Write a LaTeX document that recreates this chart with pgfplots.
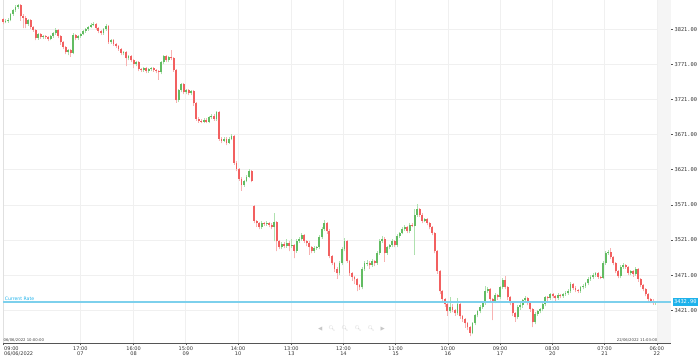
\documentclass[border=0pt]{standalone}
\usepackage{pgfplots}
\pgfplotsset{compat=1.18}
\usepackage{pgfplotstable}
\usepackage{fontspec}
\setmainfont{DejaVu Sans}
\newfontfamily\monofont{DejaVu Sans Mono}
\newfontfamily\emojifont{Noto Emoji}
\definecolor{upb}{RGB}{98,188,98}
\definecolor{upw}{RGB}{175,225,175}
\definecolor{dnb}{RGB}{242,96,96}
\definecolor{dnw}{RGB}{248,178,178}
\definecolor{cur}{RGB}{125,208,236}
\definecolor{curbox}{RGB}{30,178,235}
\definecolor{axisc}{RGB}{85,85,85}
\pgfplotstableread{
x o h l c
3 3835 3837 3828 3831
5.5 3831 3835 3829 3832
8 3832 3837 3830 3834
10.5 3834 3844 3832 3842.4
13 3842.4 3850 3840 3848
15.5 3848 3855 3846 3852.4
18 3852.4 3857 3850 3855
20.5 3855 3857 3833 3839.5
23 3839.5 3842 3822 3836.7
25.5 3836.7 3839 3822 3828
28 3828 3836 3826 3834
30.5 3834 3836 3821 3824
33 3824 3826 3817 3819.5
35.5 3819.5 3821 3805 3808
38 3808 3816 3806 3814
40.5 3814 3816 3807 3809.5
43 3809.5 3813 3807 3811
45.5 3811 3813 3807 3809.5
48 3809.5 3811 3804 3806.7
50.5 3806.7 3813 3805 3811
53 3811 3817 3809 3815.3
55.5 3815.3 3823 3813 3819.5
58 3819.5 3821 3808 3811
60.5 3811 3813 3799 3802.4
63 3802.4 3804 3792 3795.3
65.5 3795.3 3797 3785 3788
68 3788 3793 3784 3791
70.5 3791 3793 3782 3786.7
73 3786.7 3815 3785 3812.4
75.5 3812.4 3814 3805 3808
78 3808 3813 3806 3811
80.5 3811 3816 3809 3814
83 3814 3820 3812 3818
85.5 3818 3823 3816 3821
88 3821 3826 3819 3824
90.5 3824 3829 3822 3826.7
93 3826.7 3831 3825 3828
95.5 3828 3830 3820 3822.4
98 3822.4 3824 3815 3818
100.5 3818 3820 3812 3815.3
103 3815.3 3823 3813 3821
105.5 3821 3828 3819 3825.3
108 3825.3 3827 3800 3802.4
110.5 3802.4 3807 3800 3805
113 3805 3807 3797 3799.5
115.5 3799.5 3801 3794 3796.7
118 3796.7 3799 3790 3792.4
120.5 3792.4 3794 3784 3786.7
123 3786.7 3790 3784 3788
125.5 3788 3790 3768 3779.5
128 3779.5 3784 3777 3782.4
130.5 3782.4 3784 3774 3776.7
133 3776.7 3778 3765 3771
135.5 3771 3776 3768 3773.8
138 3773.8 3776 3761 3763.8
140.5 3763.8 3766 3760 3762.4
143 3762.4 3767 3760 3765.3
145.5 3765.3 3767 3758 3761
148 3761 3766 3759 3763.8
150.5 3763.8 3767 3761 3765.3
153 3765.3 3767 3760 3762.4
155.5 3762.4 3764 3758 3761
158 3761 3763 3749 3759.5
160.5 3759.5 3776 3757 3773.8
163 3773.8 3784 3771 3782.4
165.5 3782.4 3784 3774 3776.7
168 3776.7 3783 3774 3781
170.5 3781 3791 3777 3779.5
173 3779.5 3781 3760 3762.4
175.5 3762.4 3764 3716 3719.5
178 3719.5 3736 3717 3733.8
180.5 3733.8 3745 3731 3742.4
183 3742.4 3744 3728 3731
185.5 3731 3736 3728 3733.8
188 3733.8 3736 3727 3729.5
190.5 3729.5 3735 3727 3732.4
193 3732.4 3734 3712 3715.3
195.5 3715.3 3717 3691 3693.8
198 3693.8 3696 3688 3691
200.5 3691 3693 3687 3689.5
203 3689.5 3695 3687 3692.4
205.5 3692.4 3694 3687 3689.5
208 3689.5 3697 3687 3695.3
210.5 3695.3 3700 3693 3698.1
213 3698.1 3700 3691 3693.8
215.5 3693.8 3704 3691 3702.4
218 3702.4 3704 3662 3665.3
220.5 3665.3 3667 3659 3662.4
223 3662.4 3667 3660 3665.3
225.5 3665.3 3667 3656 3659.5
228 3659.5 3667 3657 3665.3
230.5 3665.3 3672 3663 3669.5
233 3669.5 3671 3628 3631
235.5 3631 3633 3619 3622.4
238 3622.4 3624 3605 3608.1
240.5 3608.1 3610 3591 3599.5
243 3599.5 3607 3597 3605.3
245.5 3605.3 3613 3603 3611
248 3611 3622 3609 3619.5
250.5 3619.5 3621 3603 3605.3
253 3569.5 3571 3545 3548.1
255.5 3548.1 3550 3540 3545.3
258 3545.3 3547 3536 3539.5
260.5 3539.5 3548 3537 3545.3
263 3545.3 3547 3541 3543.8
265.5 3543.8 3548 3541 3545.3
268 3545.3 3547 3539 3542.4
270.5 3542.4 3545 3536 3539.5
273 3539.5 3560 3519 3546.7
275.5 3546.7 3548 3505 3519.5
278 3519.5 3521 3508 3510.9
280.5 3510.9 3518 3508 3515.3
283 3515.3 3518 3509 3512.4
285.5 3512.4 3522 3510 3516.7
288 3516.7 3519 3505 3512.4
290.5 3512.4 3522 3510 3513.8
293 3513.8 3516 3495 3505.3
295.5 3505.3 3522 3503 3519.5
298 3519.5 3525 3517 3522.4
300.5 3522.4 3531 3520 3528.1
303 3528.1 3530 3517 3519.5
305.5 3519.5 3521 3512 3516.7
308 3516.7 3519 3500 3510.9
310.5 3510.9 3513 3502 3505.3
313 3505.3 3512 3503 3509.5
315.5 3509.5 3513 3507 3510.9
318 3510.9 3528 3508 3525.3
320.5 3525.3 3539 3523 3536.7
323 3536.7 3550 3534 3545.3
325.5 3545.3 3547 3530 3533.8
328 3533.8 3536 3495 3498.1
330.5 3498.1 3500 3485 3488.1
333 3488.1 3490 3476 3479.5
335.5 3479.5 3482 3466 3473.8
338 3473.8 3491 3471 3488.1
340.5 3488.1 3511 3485 3508.1
343 3508.1 3524 3505 3519.5
345.5 3519.5 3521 3488 3491
348 3491 3493 3470 3473.8
350.5 3473.8 3476 3463 3468.1
353 3468.1 3470 3458 3465.3
355.5 3465.3 3467 3448 3456.7
358 3456.7 3459 3450 3453.8
360.5 3453.8 3482 3451 3479.5
363 3479.5 3491 3477 3488.1
365.5 3488.1 3492 3484 3488.5
368 3488.5 3491 3480 3485.3
370.5 3485.3 3494 3483 3491
373 3491 3493 3484 3488.1
375.5 3488.1 3505 3486 3502.4
378 3502.4 3522 3500 3519.5
380.5 3519.5 3527 3517 3522.4
383 3522.4 3526 3490 3502.4
385.5 3502.4 3513 3500 3510.9
388 3510.9 3516 3508 3513.8
390.5 3513.8 3522 3511 3519.5
393 3519.5 3521 3511 3513.8
395.5 3513.8 3529 3511 3526.7
398 3526.7 3533 3524 3531
400.5 3531 3539 3529 3536.7
403 3536.7 3542 3534 3539.5
405.5 3539.5 3541 3531 3533.8
408 3533.8 3545 3531 3542.4
410.5 3542.4 3545 3539 3541
413 3541 3565 3500 3556.7
415.5 3556.7 3572 3554 3565.3
418 3565.3 3567 3554 3556.7
420.5 3556.7 3559 3545 3548.1
423 3548.1 3553 3546 3551
425.5 3551 3553 3542 3545.3
428 3545.3 3547 3536 3539.5
430.5 3539.5 3541 3528 3531
433 3531 3533 3502 3505.3
435.5 3505.3 3507 3473 3476.7
438 3476.7 3479 3444 3448.1
440.5 3448.1 3450 3433 3436.7
443 3436.7 3439 3426 3429.5
445.5 3429.5 3432 3413 3419.5
448 3419.5 3440 3417 3425.3
450.5 3425.3 3430 3418 3421
453 3421 3423 3413 3416.7
455.5 3416.7 3438 3414 3429.5
458 3429.5 3431 3409 3412.4
460.5 3412.4 3414 3405 3408.1
463 3408.1 3410 3396 3402.4
465.5 3402.4 3404 3393 3396.7
468 3396.7 3399 3384 3389.5
470.5 3389.5 3405 3387 3402.4
473 3402.4 3416 3400 3413.8
475.5 3413.8 3422 3411 3419.5
478 3419.5 3428 3417 3425.3
480.5 3425.3 3434 3423 3431
483 3431 3455 3429 3448.1
485.5 3448.1 3454 3446 3451
488 3451 3453 3434 3436.7
490.5 3436.7 3439 3407 3433.8
493 3433.8 3445 3431 3442.4
495.5 3442.4 3444 3436 3439.5
498 3439.5 3456 3437 3453.8
500.5 3453.8 3467 3451 3463.8
503 3463.8 3470 3451 3453.8
505.5 3453.8 3456 3436 3439.5
508 3439.5 3442 3428 3431
510.5 3431 3433 3413 3416.7
513 3416.7 3419 3405 3410.9
515.5 3410.9 3428 3408 3425.3
518 3425.3 3431 3422 3428.1
520.5 3428.1 3437 3425 3435.3
523 3435.3 3441 3433 3438.1
525.5 3438.1 3440 3428 3431
528 3431 3433 3419 3422.4
530.5 3422.4 3424 3397 3403.8
533 3403.8 3418 3401 3415.3
535.5 3415.3 3422 3413 3419.5
538 3419.5 3425 3417 3422.4
540.5 3422.4 3432 3420 3429.5
543 3429.5 3442 3427 3439.5
545.5 3439.5 3442 3435 3438.1
548 3438.1 3446 3436 3443.8
550.5 3443.8 3446 3438 3441
553 3441 3443 3435 3438.1
555.5 3438.1 3445 3436 3442.4
558 3442.4 3444 3438 3441
560.5 3441 3446 3439 3443.8
563 3443.8 3448 3442 3445.3
565.5 3445.3 3451 3443 3448.1
568 3448.1 3461 3446 3458.1
570.5 3458.1 3460 3450 3452.4
573 3452.4 3455 3447 3449.5
575.5 3449.5 3452 3445 3448.1
578 3448.1 3456 3446 3453.8
580.5 3453.8 3458 3451 3455.3
583 3455.3 3462 3453 3459.5
585.5 3459.5 3468 3457 3465.3
588 3465.3 3471 3463 3468.1
590.5 3468.1 3474 3466 3471
593 3471 3476 3469 3473.8
595.5 3473.8 3476 3466 3468.1
598 3468.1 3470 3465 3467.5
600.5 3467.5 3491 3465 3488.1
603 3488.1 3505 3486 3502.4
605.5 3502.4 3507 3500 3503.8
608 3503.8 3510 3494 3496.7
610.5 3496.7 3499 3485 3488.1
613 3488.1 3490 3474 3476.7
615.5 3476.7 3479 3467 3469.5
618 3469.5 3485 3467 3482.4
620.5 3482.4 3488 3480 3485.3
623 3485.3 3487 3480 3482.4
625.5 3482.4 3484 3471 3473.8
628 3473.8 3479 3471 3476.7
630.5 3476.7 3479 3469 3472.4
633 3472.4 3482 3470 3479.5
635.5 3479.5 3481 3462 3465.3
638 3465.3 3467 3454 3456.7
640.5 3456.7 3459 3448 3451
643 3451 3453 3441 3443.8
645.5 3443.8 3446 3434 3436.7
648 3436.7 3439 3431 3433.8
650.5 3433.8 3437 3429 3431
653 3431 3435 3429 3432.9
}\candles
\begin{document}
\begin{tikzpicture}
\begin{axis}[
  name=ax, at={(0,0)}, anchor=south west,
  scale only axis, width=665pt, height=342pt,
  xmin=3, xmax=668, ymin=3373.9, ymax=3862.4,
  axis x line*=bottom, axis y line*=right,
  axis line style={-},
  x axis line style={axisc, line width=1.6pt},
  y axis line style={axisc, line width=1.1pt},
  xtick={3,80,133,185,237,290,342,394,446,498,550,602,654},
  xticklabels={{},{17:00\\07},{16:00\\08},{15:00\\09},{14:00\\10},{13:00\\13},{12:00\\14},{11:00\\15},{10:00\\16},{09:00\\17},{08:00\\20},{07:00\\21},{06:00\\22}},
  xticklabel style={align=center, font=\fontsize{5}{5.2}\selectfont, text=black!80, inner sep=1pt},
  ytick={3421,3471,3521,3571,3621,3671,3721,3771,3821},
  yticklabels={3421.00,3471.00,3521.00,3571.00,3621.00,3671.00,3721.00,3771.00,3821.00},
  yticklabel style={font=\monofont\fontsize{5.3}{6}\selectfont, text=black!80, inner sep=1.5pt},
  tick style={axisc, line width=0.5pt},
  major tick length=2pt, tick align=outside,
  grid=major, grid style={black!6, line width=0.6pt},
  clip=false,
  candle/.style={forget plot, only marks, mark=*, mark size=0pt,
    mark options={draw=none, fill=none}},
]
\fill[black!4] (axis cs:655,3373.9) rectangle (axis cs:668,3862.4);
\draw[black!12, line width=1pt] (axis cs:3,3373.9) -- (axis cs:3,3862.4);
% wicks
\addplot[candle,
  restrict expr to domain={\thisrow{c}-\thisrow{o}}{0:1000},
  error bars/.cd, y dir=plus, y explicit, error mark=none,
  error bar style={draw=upw, line width=0.75pt}]
  table[x=x, y=l, y error expr=\thisrow{h}-\thisrow{l}] {\candles};
\addplot[candle,
  restrict expr to domain={\thisrow{c}-\thisrow{o}}{-1000:-0.001},
  error bars/.cd, y dir=plus, y explicit, error mark=none,
  error bar style={draw=dnw, line width=0.75pt}]
  table[x=x, y=l, y error expr=\thisrow{h}-\thisrow{l}] {\candles};
% bodies
\addplot[candle,
  restrict expr to domain={\thisrow{c}-\thisrow{o}}{0:1000},
  error bars/.cd, y dir=plus, y explicit, error mark=none,
  error bar style={draw=upb, line width=1.85pt}]
  table[x=x, y expr={min(\thisrow{o},\thisrow{c})}, y error expr={max(abs(\thisrow{c}-\thisrow{o}),0.9)}] {\candles};
\addplot[candle,
  restrict expr to domain={\thisrow{c}-\thisrow{o}}{-1000:-0.001},
  error bars/.cd, y dir=plus, y explicit, error mark=none,
  error bar style={draw=dnb, line width=1.85pt}]
  table[x=x, y expr={min(\thisrow{o},\thisrow{c})}, y error expr={max(abs(\thisrow{c}-\thisrow{o}),0.9)}] {\candles};
% current rate
\addplot[forget plot, cur, line width=1.3pt] coordinates {(3,3432.9) (668,3432.9)};
\node[anchor=south west, text=curbox, font=\fontsize{4.6}{5}\selectfont, inner sep=0.6pt] at (axis cs:4,3434.2) {Current Rate};
\node[anchor=west, fill=curbox, text=white, font=\monofont\fontsize{5.3}{6}\selectfont, inner sep=1.5pt] at (axis cs:669.5,3432.9) {3432.90};
% stamps
\node[anchor=south west, font=\fontsize{3.8}{4}\selectfont, text=black!75, inner sep=0.4pt] at (axis cs:3,3374.9) {06/06/2022 10:00:00};
\node[anchor=south east, font=\fontsize{3.8}{4}\selectfont, text=black!75, inner sep=0.4pt] at (axis cs:655,3374.9) {22/06/2022 11:03:00};
\node[anchor=north west, align=left, font=\fontsize{5}{5.2}\selectfont, text=black!80, inner sep=1pt] at ([yshift=-1.6pt]axis cs:3,3373.9) {09:00\\06/06/2022};
% navigation icons
\node[text=black!22, font=\fontsize{5.5}{6}\selectfont] at (axis cs:350,3395.3) {\char"25C0\hspace{6pt}{\emojifont\char"1F50D\hspace{6pt}\char"1F50D\hspace{6pt}\char"1F50D\hspace{6pt}\char"1F50D}\hspace{6pt}\char"25B6};
\end{axis}
\pgfresetboundingbox
\path ([shift={(-3pt,-14pt)}]ax.south west) rectangle ([shift={(28pt,0pt)}]ax.north east);
\end{tikzpicture}
\end{document}
